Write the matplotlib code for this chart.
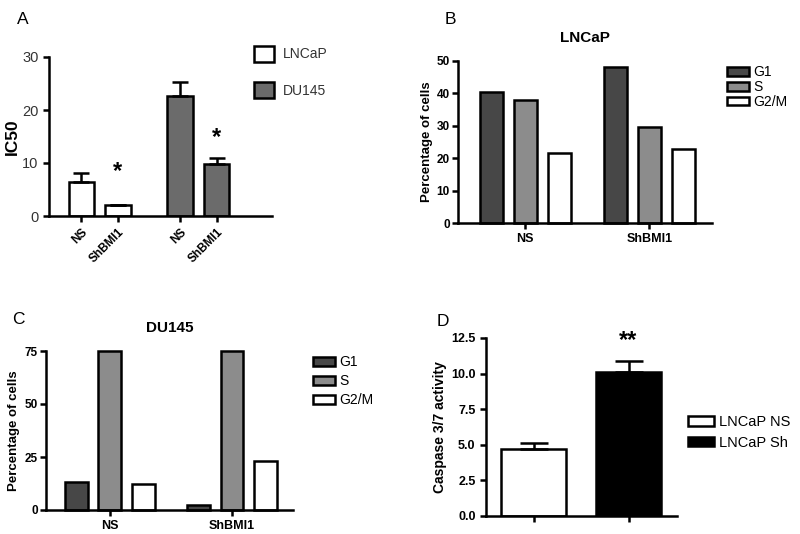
import matplotlib
matplotlib.use("Agg")
import matplotlib.pyplot as plt
from matplotlib.patches import Patch

plt.rcParams['font.family'] = ['Liberation Sans', 'DejaVu Sans']

# panel A data
a_labels = ['NS', 'ShBMI1', 'NS', 'ShBMI1']
a_vals = [6.5, 2.0, 22.7, 9.9]
a_err = [1.6, 0.1, 2.5, 1.1]
a_series = ['LNCaP', 'DU145']

# panel B / C data (cell cycle)
phases = ['G1', 'S', 'G2/M']
groups = ['NS', 'ShBMI1']
b_vals = {'G1': [40.5, 48.0], 'S': [38.0, 29.5], 'G2/M': [21.7, 22.7]}
c_vals = {'G1': [13.0, 2.3], 'S': [75.0, 75.0], 'G2/M': [12.5, 23.0]}

# panel D data
d_labels = ['LNCaP NS', 'LNCaP Sh']
d_vals = [4.7, 10.1]
d_err = [0.4, 0.75]

phase_col = {'G1': '#474747', 'S': '#8c8c8c', 'G2/M': 'white'}
LW = 1.8

fig = plt.figure(figsize=(8, 5.34), dpi=100)
W, H = 800, 534


def rect(x0, y0, x1, y1):
    return [x0 / W, 1 - y1 / H, (x1 - x0) / W, (y1 - y0) / H]


def style(ax, lw=LW):
    for s in ['top', 'right']:
        ax.spines[s].set_visible(False)
    for s in ['left', 'bottom']:
        ax.spines[s].set_linewidth(lw)
    ax.tick_params(width=lw, length=4, direction='out')


# ---- A ----
axA = fig.add_axes(rect(49, 57, 272, 216))
style(axA)
xa = [1, 2, 3.7, 4.7]
cols = ['white', 'white', '#6b6b6b', '#6b6b6b']
axA.bar(xa, a_vals, width=0.7, color=cols, edgecolor='black', linewidth=LW)
axA.errorbar(xa, a_vals, yerr=[[0]*4, a_err], fmt='none', ecolor='black',
             elinewidth=LW, capsize=6, capthick=LW)
axA.set_xlim(0.11, 6.22)
axA.set_ylim(0, 30)
axA.set_yticks([0, 10, 20, 30])
axA.set_xticks(xa)
axA.set_xticklabels(a_labels, rotation=45, ha='right', fontsize=8.5,
                    fontweight='bold', rotation_mode='anchor')
axA.tick_params(axis='y', labelsize=10.5, labelcolor='#333333')
axA.set_ylabel('IC50', fontsize=12.5, fontweight='bold')
axA.yaxis.set_label_coords(-0.13, 0.5)
axA.text(2, 8.3, '*', ha='center', va='center', fontsize=17, fontweight='bold')
axA.text(4.7, 14.9, '*', ha='center', va='center', fontsize=17, fontweight='bold')
hA = [Patch(facecolor='white', edgecolor='black', linewidth=LW),
      Patch(facecolor='#6b6b6b', edgecolor='black', linewidth=LW)]
fig.legend(hA, a_series, loc='upper left', bbox_to_anchor=(241 / W, 1 - 33 / H),
           frameon=False, fontsize=10, handlelength=1.45, handleheight=1.4,
           labelspacing=1.5, handletextpad=0.7, labelcolor='#333333')
fig.text(17 / W, 1 - 19 / H, 'A', fontsize=12.5, va='center')


def cycle(ax, vals, ylim, yticks, title, legxy, lspace, labx):
    style(ax)
    centers = [2.0, 5.65]
    for i, p in enumerate(phases):
        xs = [c + (i - 1) for c in centers]
        ax.bar(xs, vals[p], width=0.68, color=phase_col[p], edgecolor='black',
               linewidth=LW, label=p, clip_on=False)
    ax.set_ylim(*ylim)
    ax.set_yticks(yticks)
    ax.set_xticks(centers)
    ax.set_xticklabels(groups, fontweight='bold', fontsize=9)
    ax.tick_params(axis='y', pad=2)
    for t in ax.get_yticklabels():
        t.set_fontweight('bold')
        t.set_fontsize(8.5)
    ax.set_ylabel('Percentage of cells', fontweight='bold', fontsize=9.5)
    ax.yaxis.set_label_coords(labx, 0.5)
    ax.set_title(title, fontweight='bold', fontsize=11, pad=14)
    h, l = ax.get_legend_handles_labels()
    fig.legend(h, l, loc='upper left', bbox_to_anchor=legxy, frameon=False,
               fontsize=10, handlelength=1.65, handleheight=0.6,
               labelspacing=lspace, handletextpad=0.3)


# ---- B ----
axB = fig.add_axes(rect(458, 61, 712, 223))
cycle(axB, b_vals, (0, 50), [0, 10, 20, 30, 40, 50], 'LNCaP',
      (714 / W, 1 - 53 / H), 0.05, -0.1)
axB.set_xlim(0.02, 7.49)
fig.text(445 / W, 1 - 20 / H, 'B', fontsize=12.5, va='center')

# ---- C ----
axC = fig.add_axes(rect(46, 351, 293, 510))
cycle(axC, c_vals, (0, 75), [0, 25, 50, 75], 'DU145', (300 / W, 1 - 343 / H),
      0.35, -0.105)
axC.set_xlim(0.1, 7.47)
fig.text(12 / W, 1 - 320 / H, 'C', fontsize=12.5, va='center')

# ---- D ----
axD = fig.add_axes(rect(486, 338, 677, 516))
style(axD)
xd = [0.5, 1.5]
axD.bar(xd, d_vals, width=0.684, color=['white', 'black'], edgecolor='black',
        linewidth=LW, label=d_labels)
axD.errorbar(xd, d_vals, yerr=[[0, 0], d_err], fmt='none', ecolor='black',
             elinewidth=LW, capsize=10, capthick=LW)
axD.set_xlim(0, 2.01)
axD.set_ylim(0, 12.5)
axD.set_yticks([0, 2.5, 5.0, 7.5, 10.0, 12.5])
axD.set_yticklabels(['0.0', '2.5', '5.0', '7.5', '10.0', '12.5'],
                    fontweight='bold', fontsize=9)
axD.set_xticks(xd)
axD.set_xticklabels(['', ''])
axD.set_ylabel('Caspase 3/7 activity', fontweight='bold', fontsize=10)
axD.yaxis.set_label_coords(-0.204, 0.5)
axD.text(1.5, 12.3, '**', ha='center', va='center', fontsize=17, fontweight='bold')
hD = [Patch(facecolor='white', edgecolor='black', linewidth=LW),
      Patch(facecolor='black', edgecolor='black', linewidth=LW)]
fig.legend(hD, d_labels, loc='upper left', bbox_to_anchor=(675 / W, 1 - 402 / H),
           frameon=False, fontsize=10.5, handlelength=1.8, handleheight=0.6,
           labelspacing=0.45, handletextpad=0.3)
fig.text(437 / W, 1 - 321 / H, 'D', fontsize=12.5, va='center')

fig.savefig('out.png', dpi=100)
